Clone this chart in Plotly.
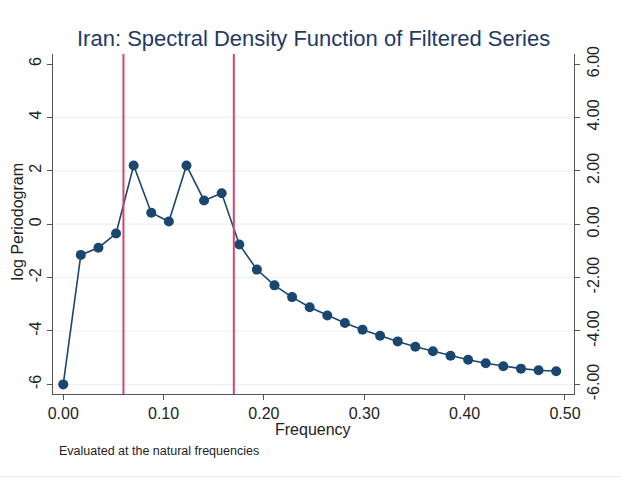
import plotly.graph_objects as go

# Natural frequencies k/57, k = 0..28
n_obs = 57
frequency = [k / n_obs for k in range(29)]
log_periodogram = [
    -6.00, -1.15, -0.88, -0.35, 2.20, 0.43, 0.10, 2.20, 0.89, 1.16,
    -0.76, -1.70, -2.29, -2.73, -3.11, -3.42, -3.70, -3.95, -4.18, -4.39,
    -4.59, -4.76, -4.93, -5.08, -5.21, -5.32, -5.41, -5.47, -5.51,
]
band_edges = [0.06, 0.17]
y_ticks = [-6, -4, -2, 0, 2, 4, 6]
y_ticktext_left = ["-6", "-4", "-2", "0", "2", "4", "6"]
y_ticktext_right = ["-6.00", "-4.00", "-2.00", "0.00", "2.00", "4.00", "6.00"]
grid_values = [-6, -4, -2, 0, 2, 4]
x_ticks = [0.0, 0.1, 0.2, 0.3, 0.4, 0.5]
x_ticktext = ["0.00", "0.10", "0.20", "0.30", "0.40", "0.50"]

FONT = "Liberation Sans, Arial, sans-serif"
NAVY = "#1a476f"
RED = "#d4456b"
AXIS = "#555555"
YR = [-6.36, 6.375]

fig = go.Figure()
fig.add_trace(go.Scatter(
    x=frequency, y=log_periodogram, mode="lines+markers",
    line=dict(color=NAVY, width=1.6),
    marker=dict(color=NAVY, size=10, line=dict(width=0)),
    showlegend=False, hoverinfo="x+y",
))
# invisible trace so the mirrored right axis is drawn
fig.add_trace(go.Scatter(x=[frequency[0]], y=[log_periodogram[0]], yaxis="y2",
                         mode="markers", marker=dict(opacity=0), showlegend=False,
                         hoverinfo="skip"))

shapes = []
for g in grid_values:
    shapes.append(dict(type="line", xref="paper", yref="y", x0=0, x1=1, y0=g, y1=g,
                       line=dict(color="#eaf1f3", width=1.2), layer="below"))
for b in band_edges:
    shapes.append(dict(type="line", xref="x", yref="paper", x0=b, x1=b, y0=0, y1=1,
                       line=dict(color=RED, width=2)))
shapes.append(dict(type="line", xref="paper", yref="paper", x0=-0.11, x1=1.1,
                   y0=-0.243, y1=-0.243, line=dict(color="#e6e6e6", width=1)))

fig.update_layout(
    width=621, height=480,
    margin=dict(l=53, r=47, t=54, b=86),
    paper_bgcolor="white", plot_bgcolor="white",
    font=dict(family=FONT, size=16, color="#222222"),
    shapes=shapes,
    xaxis=dict(
        range=[-0.0102, 0.509], tickvals=x_ticks, ticktext=x_ticktext,
        showgrid=False, zeroline=False, showline=True, linecolor=AXIS, linewidth=1.2,
        ticks="outside", ticklen=5, tickcolor=AXIS, tickfont=dict(size=16),
    ),
    yaxis=dict(
        range=YR, tickvals=y_ticks, ticktext=y_ticktext_left, tickangle=-90,
        showgrid=False, zeroline=False, showline=True, linecolor=AXIS, linewidth=1.2,
        ticks="outside", ticklen=5, tickcolor=AXIS, tickfont=dict(size=16),
    ),
    yaxis2=dict(
        range=YR, tickvals=y_ticks, ticktext=y_ticktext_right, tickangle=-90,
        overlaying="y", side="right",
        showgrid=False, zeroline=False, showline=True, linecolor=AXIS, linewidth=1.2,
        ticks="outside", ticklen=5, tickcolor=AXIS, tickfont=dict(size=16),
    ),
    annotations=[
        dict(text="Iran: Spectral Density Function of Filtered Series",
             xref="paper", yref="paper", x=0.4997, y=(394.3 - 39) / 340,
             xanchor="center", yanchor="middle", showarrow=False,
             font=dict(size=22, color="#1f3a63")),
        dict(text="Frequency", xref="paper", yref="paper", x=0.4997,
             y=(394.3 - 430) / 340, xanchor="center", yanchor="middle",
             showarrow=False, font=dict(size=16)),
        dict(text="log Periodogram", xref="paper", yref="paper",
             x=(18 - 53.3) / 520.7, y=(394.3 - 222) / 340, textangle=-90,
             xanchor="center", yanchor="middle", showarrow=False,
             font=dict(size=16)),
        dict(text="Evaluated at the natural frequencies", xref="paper", yref="paper",
             x=(57 - 53.3) / 520.7, y=(394.3 - 451) / 340, xanchor="left",
             yanchor="middle", showarrow=False, font=dict(size=12.5)),
    ],
)

fig.write_html("out.html")
